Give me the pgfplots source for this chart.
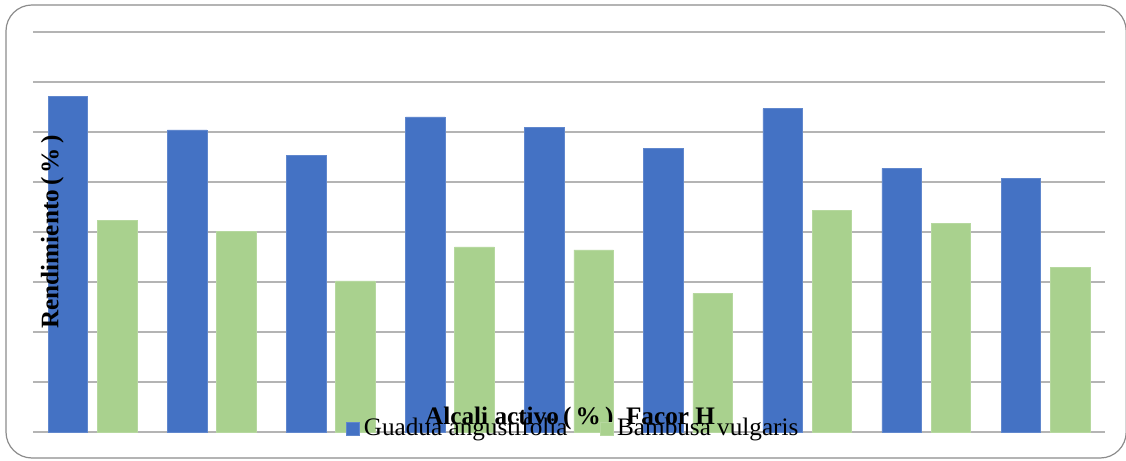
\documentclass[border=0pt]{standalone}
\usepackage{pgfplots}
\pgfplotsset{compat=1.18}
\usepackage{fontspec}
\setmainfont{Liberation Serif}

\definecolor{guadua}{HTML}{4472C4}
\definecolor{bambusa}{HTML}{A9D18E}
\definecolor{gridgray}{HTML}{B4B4B4}
\definecolor{framegray}{HTML}{8C8C8C}

\begin{document}
\begin{tikzpicture}
\begin{axis}[
  scale only axis,
  width=536pt, height=200pt,
  xmin=-0.5, xmax=8.5,
  ymin=0, ymax=8,
  axis line style={draw=none},
  xtick=\empty,
  ytick={0,1,...,8},
  yticklabels={},
  major tick length=0pt,
  ymajorgrids,
  grid style={gridgray, line width=0.6pt},
  bar width=0.332,
  ylabel={\bfseries Rendimiento\,(\,\%\,)},
  ylabel style={at={(rel axis cs:0.018,0.5)}, anchor=center, rotate=0,
                font=\fontsize{12.6}{15}\selectfont},
  xlabel={\bfseries Alcali activo\,(\,\%\,)\ \ Facor H},
  xlabel style={at={(rel axis cs:0.501,0.018)}, anchor=base,
                font=\fontsize{12.6}{15}\selectfont},
  legend style={at={(rel axis cs:0.505,0.009)}, anchor=base,
                draw=none, fill=none, legend columns=2,
                font=\fontsize{12.6}{15}\selectfont,
                /tikz/every even column/.append style={column sep=14pt}},
  legend image code/.code={\fill[#1] (0pt,-3.2pt) rectangle (6.5pt,3.3pt);},
]
\addplot[ybar, bar shift=-0.2066, fill=guadua, draw=guadua!85!white, line width=0.3pt]
  coordinates {(0,6.706) (1,6.040) (2,5.534) (3,6.300) (4,6.094)
               (5,5.674) (6,6.466) (7,5.274) (8,5.074)};
\addlegendentry{Guadua angustifolia}
\addplot[ybar, bar shift=0.2066, fill=bambusa, draw=bambusa!85!white, line width=0.3pt]
  coordinates {(0,4.226) (1,4.014) (2,3.020) (3,3.700) (4,3.640)
               (5,2.774) (6,4.434) (7,4.174) (8,3.294)};
\addlegendentry{Bambusa vulgaris}
\end{axis}
% rounded outer frame of the chart area
\draw[framegray, line width=0.6pt, rounded corners=13pt]
  ([xshift=-13.5pt,yshift=-13pt]current axis.south west) rectangle
  ([xshift=10.6pt,yshift=13.5pt]current axis.north east);
\pgfresetboundingbox
\path[use as bounding box]
  ([xshift=-16.5pt,yshift=-14pt]current axis.south west) rectangle
  ([xshift=10.5pt,yshift=16pt]current axis.north east);
\end{tikzpicture}
\end{document}
